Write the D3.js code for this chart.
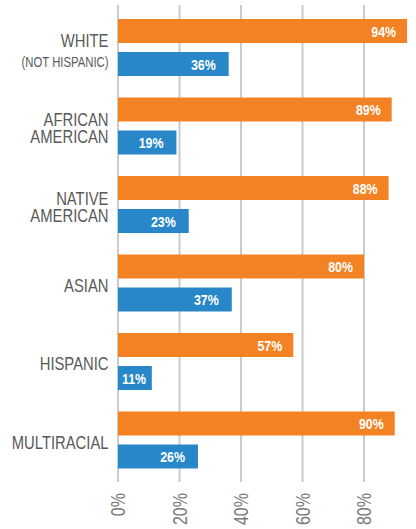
<!DOCTYPE html>
<html>
<head>
<meta charset="utf-8">
<script src="https://cdn.jsdelivr.net/npm/d3@7/dist/d3.min.js"></script>
<style>
  html, body { margin: 0; padding: 0; background: #fff; }
  svg { display: block; }
  text { font-family: 'Liberation Sans', Arial, sans-serif; }
</style>
</head>
<body>
<svg id="chart" width="416" height="529"></svg>
<script>
// Categories, each label split into the lines it is drawn on
const categories = ["WHITE", "AFRICAN AMERICAN", "NATIVE AMERICAN", "ASIAN", "HISPANIC", "MULTIRACIAL"];
const categoryLines = [
  ["WHITE", "(NOT HISPANIC)"],
  ["AFRICAN", "AMERICAN"],
  ["NATIVE", "AMERICAN"],
  ["ASIAN"],
  ["HISPANIC"],
  ["MULTIRACIAL"]
];
// Two series, in percent
const series1 = [94, 89, 88, 80, 57, 90];
const series2 = [36, 19, 23, 37, 11, 26];
const seriesKeys = ["series1", "series2"];
const seriesColors = ["#F28223", "#2887C8"];
const tickValues = [0, 20, 40, 60, 80];

const svg = d3.select("#chart");

// Horizontal squeeze that gives the regular sans a condensed look
const NARROW = 0.78;
const VALUE_NARROW = 0.8;

const x = d3.scaleLinear().domain([0, 100]).range([118, 425.5]);
const y = d3.scaleBand().domain(categories).range([8.25, 479.25]).padding(0);
const ySub = d3.scaleBand().domain(seriesKeys).range([0, y.bandwidth()])
  .paddingInner(0.273).paddingOuter(0.326);
const color = d3.scaleOrdinal().domain(seriesKeys).range(seriesColors);

const rows = categories.map((c, i) => ({
  category: c,
  lines: categoryLines[i],
  values: [
    { key: "series1", value: series1[i] },
    { key: "series2", value: series2[i] }
  ]
}));

// Vertical gridlines
svg.append("g")
  .selectAll("line")
  .data(tickValues)
  .join("line")
  .attr("x1", d => x(d)).attr("x2", d => x(d))
  .attr("y1", 5).attr("y2", 482)
  .attr("stroke", "#cbcbcb")
  .attr("stroke-width", 2);

// Bars
const groups = svg.append("g")
  .selectAll("g")
  .data(rows)
  .join("g")
  .attr("transform", d => `translate(0,${y(d.category)})`);

groups.selectAll("rect")
  .data(d => d.values)
  .join("rect")
  .attr("x", x(0))
  .attr("y", d => ySub(d.key))
  .attr("width", d => x(d.value) - x(0))
  .attr("height", ySub.bandwidth())
  .attr("fill", d => color(d.key));

// Value labels: inside the bar end, kept inside the bar when it is short
groups.selectAll("text.value")
  .data(d => d.values)
  .join("text")
  .attr("class", "value")
  .attr("text-anchor", "end")
  .attr("fill", "#fff")
  .attr("font-weight", "bold")
  .attr("font-size", 15.5)
  .text(d => d.value + "%")
  .attr("transform", function(d) {
    const w = this.getComputedTextLength() * VALUE_NARROW;
    const gap = d.key === "series1" ? 11 : 13;
    const endX = Math.max(x(d.value) - gap, x(0) + 4 + w);
    const by = ySub(d.key) + ySub.bandwidth() / 2 + 5.6;
    return `translate(${endX},${by}) scale(${VALUE_NARROW},1)`;
  });

// Category labels
const labelX = 108.5;
groups.each(function(d) {
  const g = d3.select(this);
  const center = y.bandwidth() / 2;
  const n = d.lines.length;
  const lineH = 16.6;
  const hasNote = d.lines.some(l => l.startsWith("("));
  const label = g.append("text")
    .attr("text-anchor", "end")
    .attr("fill", "#5a5a5a")
    .attr("transform", `translate(${labelX},0) scale(${NARROW},1)`);
  d.lines.forEach((line, i) => {
    const note = line.startsWith("(");
    let by;
    if (hasNote) by = note ? center + 19.8 : center - 0.5;
    else by = center + 8.8 + (i - (n - 1) / 2) * lineH;
    label.append("tspan")
      .attr("x", 0)
      .attr("y", by)
      .attr("font-size", note ? 14.5 : 19)
      .text(line);
  });
});

// Rotated axis tick labels
svg.append("g")
  .selectAll("text")
  .data(tickValues)
  .join("text")
  .attr("transform", d => `translate(${x(d)},493) rotate(-90) scale(0.8,1)`)
  .attr("dy", "0.36em")
  .attr("text-anchor", "end")
  .attr("fill", "#7a7a7a")
  .attr("font-size", 20)
  .text(d => d + "%");
</script>
</body>
</html>
